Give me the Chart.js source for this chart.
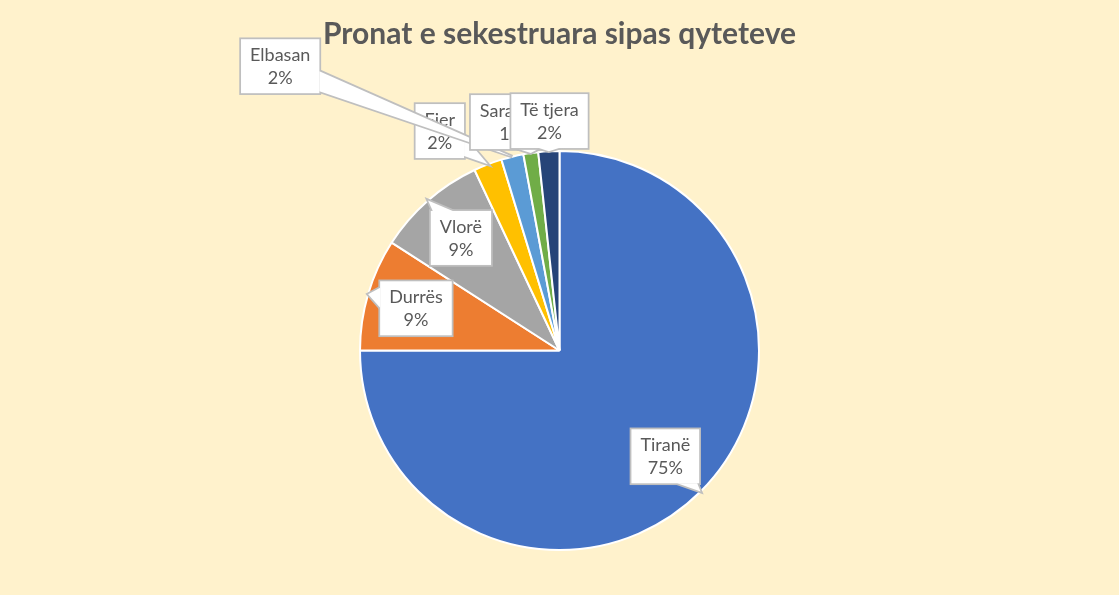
<!DOCTYPE html>
<html>
<head>
<meta charset="utf-8">
<script src="https://cdn.jsdelivr.net/npm/chart.js@4"></script>
<style>
  html, body { margin: 0; padding: 0; background: #fff2cc; }
  #wrap { width: 1119px; height: 595px; position: relative; }
</style>
</head>
<body>
<div id="wrap"><canvas id="pieChart"></canvas></div>
<script>
// data (share of total, %)
const cities = ['Tiranë', 'Durrës', 'Vlorë', 'Fier', 'Elbasan', 'Sarandë', 'Të tjera'];
const shares = [75, 9.1, 8.9, 2.3, 1.8, 1.2, 1.7];
const sliceColors = ['#4472c4', '#ed7d31', '#a5a5a5', '#ffc000', '#5b9bd5', '#70ad47', '#264478'];

// callout placement: null = inside the slice, otherwise box centre offset in radius units
const calloutOffsets = [null, null, null, [-0.60, -1.10], [-1.40, -1.425], [-0.24, -1.145], [-0.05, -1.15]];

const calloutPlugin = {
    id: 'callouts',
    afterDatasetsDraw(chart) {
        const ctx = chart.ctx;
        const meta = chart.getDatasetMeta(0);
        const values = chart.data.datasets[0].data;
        const total = values.reduce((a, b) => a + b, 0);
        ctx.save();
        ctx.font = '18px Lato';
        ctx.textAlign = 'center';
        ctx.textBaseline = 'middle';
        meta.data.forEach((arc, i) => {
            const p = arc.getProps(['x', 'y', 'startAngle', 'endAngle', 'outerRadius'], true);
            const mid = (p.startAngle + p.endAngle) / 2;
            const R = p.outerRadius;
            const tip = { x: p.x + Math.cos(mid) * R, y: p.y + Math.sin(mid) * R };
            let cx, cy;
            if (calloutOffsets[i]) {
                cx = p.x + calloutOffsets[i][0] * R;
                cy = p.y + calloutOffsets[i][1] * R;
            } else {
                cx = p.x + Math.cos(mid) * R * 0.75;
                cy = p.y + Math.sin(mid) * R * 0.75;
            }
            const line1 = chart.data.labels[i];
            const line2 = Math.round(values[i] / total * 100) + '%';
            const w = Math.max(ctx.measureText(line1).width, ctx.measureText(line2).width) + 18;
            const h = 54;
            const x0 = cx - w / 2, y0 = cy - h / 2;

            // wedge: base on the box edge where the ray to the tip leaves it
            const dx = tip.x - cx, dy = tip.y - cy;
            const tx = dx !== 0 ? (w / 2) / Math.abs(dx) : Infinity;
            const ty = dy !== 0 ? (h / 2) / Math.abs(dy) : Infinity;
            let tri = null;
            if (Math.min(tx, ty) < 1) {
                const half = 10;
                if (tx < ty) {
                    const ex = cx + dx * tx;
                    let ey = cy + dy * tx;
                    ey = Math.min(Math.max(ey, y0 + half + 2), y0 + h - half - 2);
                    tri = [[ex, ey - half], [ex, ey + half], [tip.x, tip.y]];
                } else {
                    let ex = cx + dx * ty;
                    const ey = cy + dy * ty;
                    ex = Math.min(Math.max(ex, x0 + half + 2), x0 + w - half - 2);
                    tri = [[ex - half, ey], [ex + half, ey], [tip.x, tip.y]];
                }
            }
            const triPath = () => {
                ctx.beginPath();
                ctx.moveTo(tri[0][0], tri[0][1]);
                ctx.lineTo(tri[2][0], tri[2][1]);
                ctx.lineTo(tri[1][0], tri[1][1]);
                ctx.closePath();
            };
            // outline first, then fill over it so only the outer edge of the union stays
            ctx.strokeStyle = '#bfbfbf';
            ctx.lineWidth = 3.5;
            ctx.lineJoin = 'miter';
            ctx.strokeRect(x0, y0, w, h);
            if (tri) { triPath(); ctx.stroke(); }
            ctx.fillStyle = '#ffffff';
            ctx.fillRect(x0, y0, w, h);
            if (tri) { triPath(); ctx.fill(); }

            ctx.fillStyle = '#595959';
            ctx.fillText(line1, cx, cy - 11);
            ctx.fillText(line2, cx, cy + 12);
        });
        ctx.restore();
    }
};

const ctx = document.getElementById('pieChart').getContext('2d');
const pieChart = new Chart(ctx, {
    type: 'pie',
    data: {
        labels: cities,
        datasets: [{
            data: shares,
            backgroundColor: sliceColors,
            borderColor: '#ffffff',
            borderWidth: 2
        }]
    },
    options: {
        responsive: true,
        maintainAspectRatio: false,
        animation: false,
        events: [],
        layout: { padding: { top: 0, bottom: 44, left: 0, right: 0 } },
        plugins: {
            legend: { display: false },
            tooltip: { enabled: false },
            title: {
                display: true,
                text: 'Pronat e sekestruara sipas qyteteve',
                color: '#595959',
                font: { family: 'Lato', size: 30, weight: 'bold' },
                padding: { top: 16, bottom: 98 }
            }
        }
    },
    plugins: [calloutPlugin]
});
</script>
</body>
</html>
